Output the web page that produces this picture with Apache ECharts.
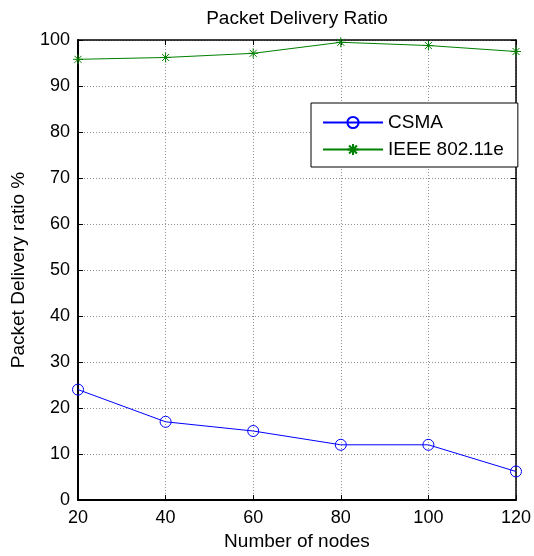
<!DOCTYPE html>
<html>
<head>
<meta charset="utf-8">
<script src="https://cdn.jsdelivr.net/npm/echarts@6/dist/echarts.min.js"></script>
<style>html,body{margin:0;padding:0;background:#fff}#c{width:534px;height:556px}</style>
</head>
<body>
<div id="c"></div>
<script>
var nodes = [20, 40, 60, 80, 100, 120];
var csma = [24, 17, 15, 12, 12, 6.2];
var ieee = [95.8, 96.2, 97.1, 99.5, 98.8, 97.5];
var seriesNames = ['CSMA', 'IEEE 802.11e'];
var titleText = 'Packet Delivery Ratio';
var xName = 'Number of nodes';
var yName = 'Packet Delivery ratio %';

var FONT = '"Liberation Sans", Arial, Helvetica, sans-serif';
var chart = echarts.init(document.getElementById('c'), null, {renderer: 'canvas'});
function pairs(xs, ys) { return xs.map(function (x, i) { return [x, ys[i]]; }); }
var star = 'path://M5,0L5,10M0,5L10,5M1.5,1.5L8.5,8.5M1.5,8.5L8.5,1.5';
var gridLine = {show: true, lineStyle: {color: '#909090', type: [1, 2], width: 1}};
chart.setOption({
  animation: false,
  backgroundColor: '#fff',
  textStyle: {fontFamily: FONT},
  graphic: [{
    type: 'text', x: 297, y: 9,
    style: {text: titleText, font: '19px ' + FONT, fill: '#000', textAlign: 'center', textVerticalAlign: 'top'}
  }],
  grid: {left: 78, right: 14, top: 40, bottom: 56, containLabel: false},
  legend: {
    orient: 'vertical', left: 311, top: 103,
    backgroundColor: '#fff', borderColor: '#000', borderWidth: 1, borderRadius: 0,
    padding: [10, 14, 8, 11], itemGap: 8, itemWidth: 60, itemHeight: 14,
    textStyle: {fontSize: 19, color: '#000', fontFamily: FONT},
    data: seriesNames
  },
  xAxis: [{
    type: 'value', min: 20, max: 120, interval: 20,
    name: xName, nameLocation: 'middle', nameGap: 31,
    nameTextStyle: {fontSize: 19, color: '#000', fontFamily: FONT},
    axisLine: {show: true, onZero: false, lineStyle: {color: '#000', width: 2}},
    axisTick: {show: true, inside: true, length: 5, lineStyle: {color: '#000'}},
    axisLabel: {fontSize: 18, color: '#000', margin: 9, fontFamily: FONT},
    splitLine: gridLine
  }, {
    type: 'value', min: 20, max: 120, interval: 20, position: 'top',
    axisLine: {show: true, onZero: false, lineStyle: {color: '#000', width: 1.5}},
    axisTick: {show: true, inside: true, length: 5, lineStyle: {color: '#000'}},
    axisLabel: {show: false}, splitLine: {show: false}
  }],
  yAxis: [{
    type: 'value', min: 0, max: 100, interval: 10,
    name: yName, nameLocation: 'middle', nameGap: 50, nameRotate: 90,
    nameTextStyle: {fontSize: 19, color: '#000', fontFamily: FONT},
    axisLine: {show: true, onZero: false, lineStyle: {color: '#000', width: 2}},
    axisTick: {show: true, inside: true, length: 5, lineStyle: {color: '#000'}},
    axisLabel: {fontSize: 18, color: '#000', margin: 8, fontFamily: FONT},
    splitLine: gridLine
  }, {
    type: 'value', min: 0, max: 100, interval: 10, position: 'right',
    axisLine: {show: true, onZero: false, lineStyle: {color: '#000', width: 1.5}},
    axisTick: {show: true, inside: true, length: 5, lineStyle: {color: '#000'}},
    axisLabel: {show: false}, splitLine: {show: false}
  }],
  series: [{
    name: seriesNames[0], type: 'line', data: pairs(nodes, csma),
    symbol: 'circle', symbolSize: 11, showAllSymbol: true,
    lineStyle: {color: '#0000ff', width: 1},
    itemStyle: {color: 'rgba(255,255,255,0)', borderColor: '#0000ff', borderWidth: 1}
  }, {
    name: seriesNames[1], type: 'line', data: pairs(nodes, ieee),
    symbol: star, symbolSize: 10, showAllSymbol: true,
    lineStyle: {color: '#008000', width: 1},
    itemStyle: {color: 'rgba(255,255,255,0)', borderColor: '#008000', borderWidth: 1}
  }]
});
</script>
</body>
</html>
